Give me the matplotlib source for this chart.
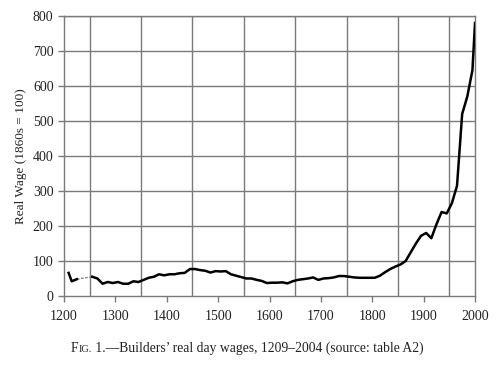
import numpy as np
import matplotlib
matplotlib.use("Agg")
import matplotlib.pyplot as plt

# builders' real day wage index (1860s = 100)
years = [1209, 1215, 1225, 1245, 1255, 1265, 1275, 1285, 1295, 1305, 1315, 1325,
         1335, 1345, 1355, 1365, 1375, 1385, 1395, 1405, 1415, 1425, 1435, 1445,
         1455, 1465, 1475, 1485, 1495, 1505, 1515, 1525, 1535, 1545, 1555, 1565,
         1575, 1585, 1595, 1605, 1615, 1625, 1635, 1645, 1655, 1665, 1675, 1685,
         1695, 1705, 1715, 1725, 1735, 1745, 1755, 1765, 1775, 1785, 1795, 1805,
         1815, 1825, 1835, 1845, 1855, 1865, 1875, 1885, 1895, 1905, 1915, 1925,
         1935, 1945, 1955, 1965, 1975, 1985, 1995, 2000]
wage = [66, 42, 48, np.nan, 55, 50, 35, 40, 37, 40, 35, 35,
        42, 40, 46, 52, 55, 62, 59, 62, 62, 65, 66, 77,
        77, 74, 72, 67, 71, 70, 71, 62, 58, 54, 50, 50,
        46, 43, 37, 38, 38, 39, 36, 42, 46, 48, 50, 53,
        46, 50, 51, 53, 57, 57, 55, 53, 52, 52, 52, 52,
        58, 68, 77, 84, 90, 100, 125, 150, 172, 180, 165, 205,
        240, 236, 265, 315, 520, 570, 645, 780]

# missing decades, bridged with a faint line
gap_years = [1225, 1255]
gap_wage = [48, 55]

xticks = list(range(1200, 2001, 100))
grid_x = list(range(1250, 2000, 100))
yticks = list(range(0, 801, 100))

serif = ["Liberation Serif", "DejaVu Serif"]
plt.rcParams["font.family"] = serif

fig = plt.figure(figsize=(5.0, 3.68), dpi=100)
ax = fig.add_axes([0.128, 0.1957, 0.822, 0.7608])

grid_c = "#7a7a7a"
for gx in grid_x:
    ax.axvline(gx, color=grid_c, lw=1.0, zorder=1)
for gy in yticks[1:]:
    ax.axhline(gy, color=grid_c, lw=1.0, zorder=1)

ax.plot(gap_years, gap_wage, color="#888888", lw=1.0, ls=(0, (2, 1)), zorder=2)
ax.plot(years, wage, color="black", lw=1.8, zorder=3, solid_joinstyle="round")

ax.set_xlim(1200, 2000)
ax.set_ylim(0, 800)
ax.set_xticks(xticks)
ax.set_yticks(yticks)
ax.tick_params(direction="out", length=4, width=1.0, color=grid_c,
               labelsize=10, colors="#222222")
ax.tick_params(axis="x", pad=6)
for s in ax.spines.values():
    s.set_color(grid_c)
    s.set_linewidth(1.0)

ax.set_ylabel("Real Wage (1860s = 100)", fontsize=9.5, color="#222222", labelpad=4)

# caption with small-cap "Fig."
fig.canvas.draw()
r = fig.canvas.get_renderer()
cy = 1 - 352 / 368
parts = [("F", 9.8), ("IG.", 7.4), (" 1.\u2014Builders\u2019 real day wages, 1209\u20132004 (source: table A2)", 9.8)]
texts = []
for s, size in parts:
    t = fig.text(0, cy, s, fontsize=size, va="baseline", ha="left", color="#222222")
    texts.append(t)
widths = [t.get_window_extent(renderer=r).width for t in texts]
total = sum(widths)
x0 = 247 - total / 2
for t, w in zip(texts, widths):
    t.set_x(x0 / 500)
    x0 += w

fig.savefig("out.png", dpi=100)
